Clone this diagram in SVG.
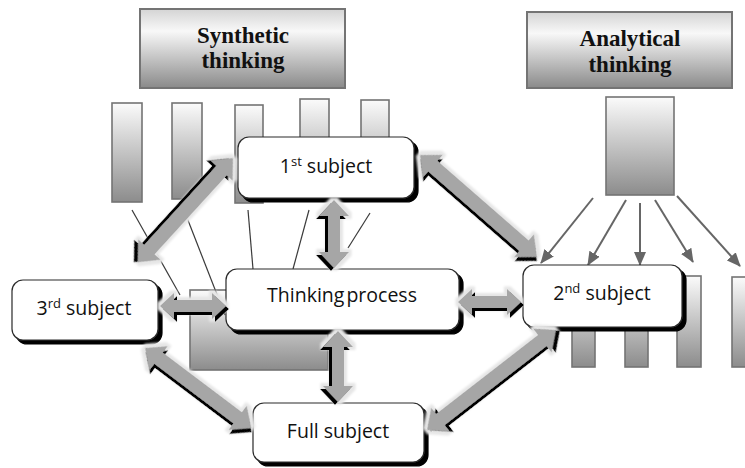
<svg xmlns="http://www.w3.org/2000/svg" width="745" height="468" viewBox="0 0 745 468">
<style>
.hdr{stroke:#747474;stroke-width:2;fill:url(#hdrGrad)}
.hdrt{font-family:"Liberation Serif","Times New Roman",serif;font-weight:bold;font-size:23px;fill:#111;text-anchor:middle}
.bar{stroke:#747474;stroke-width:1.6;fill:url(#barGrad)}
.node{fill:#fff;stroke:#2a2a2a;stroke-width:1.2;filter:url(#nodeShadow)}
.nt{font-family:"Open Sans","Noto Sans","DejaVu Sans",sans-serif;font-size:19.5px;fill:#111;text-anchor:middle}
.sup{font-size:13px}
.thin{stroke:#3a3a3a;stroke-width:1.2;fill:none}
.an{stroke:#666;stroke-width:2;fill:none;marker-end:url(#ah)}
.dbl{fill:#a6a6a6;filter:url(#arrowFx)}
</style>
<defs>
<linearGradient id="hdrGrad" x1="0" y1="0" x2="0" y2="1">
<stop offset="0" stop-color="#d4d4d4"/>
<stop offset="0.28" stop-color="#f8f8f8"/>
<stop offset="1" stop-color="#8a8a8a"/>
</linearGradient>
<linearGradient id="barGrad" x1="0" y1="0" x2="0" y2="1">
<stop offset="0" stop-color="#fbfbfb"/>
<stop offset="1" stop-color="#8c8c8c"/>
</linearGradient>
<filter id="nodeShadow" x="-10%" y="-20%" width="130%" height="150%">
<feGaussianBlur in="SourceAlpha" stdDeviation="0.5" result="b"/>
<feOffset in="b" dx="4" dy="4" result="o"/>
<feFlood flood-color="#000"/>
<feComposite in2="o" operator="in" result="s"/>
<feMerge><feMergeNode in="s"/><feMergeNode in="SourceGraphic"/></feMerge>
</filter>
<filter id="arrowFx" x="-40%" y="-40%" width="180%" height="180%">
<feMorphology in="SourceAlpha" operator="dilate" radius="3" result="d"/>
<feGaussianBlur in="d" stdDeviation="1" result="db"/>
<feFlood flood-color="#e6e6e6"/>
<feComposite in2="db" operator="in" result="halo"/>
<feOffset in="SourceAlpha" dx="2.5" dy="2.5" result="o"/>
<feFlood flood-color="#000"/>
<feComposite in2="o" operator="in" result="sh"/>
<feMerge><feMergeNode in="halo"/><feMergeNode in="sh"/><feMergeNode in="SourceGraphic"/></feMerge>
</filter>
<marker id="ah" viewBox="0 0 14 12" refX="13" refY="6" markerWidth="14" markerHeight="12" markerUnits="userSpaceOnUse" orient="auto">
<path d="M0,0 L14,6 L0,12 Z" fill="#666"/>
</marker>
</defs>
<rect width="745" height="468" fill="#fff"/>

<g id="synthetic-thinking">
<rect class="hdr" x="140" y="9" width="205" height="79"/>
<text class="hdrt" x="243" y="43">Synthetic</text>
<text class="hdrt" x="243" y="68">thinking</text>
</g>
<g id="analytical-thinking">
<rect class="hdr" x="527" y="12" width="205" height="76"/>
<text class="hdrt" x="630" y="46">Analytical</text>
<text class="hdrt" x="630" y="72">thinking</text>
</g>

<g id="synthetic-bars">
<rect class="bar" x="112" y="103" width="30" height="99"/>
<rect class="bar" x="172" y="103" width="30" height="96"/>
<rect class="bar" x="235" y="105" width="28" height="98"/>
<rect class="bar" x="300" y="99" width="29" height="100"/>
<rect class="bar" x="361" y="100" width="28" height="100"/>
</g>
<g id="analytical-bar">
<rect class="bar" x="606" y="97" width="68" height="98"/>
</g>
<g id="subject-bars">
<rect class="bar" x="572" y="276" width="23" height="91"/>
<rect class="bar" x="625" y="276" width="23" height="91"/>
<rect class="bar" x="677" y="276" width="24" height="91"/>
<rect class="bar" x="732" y="277" width="30" height="90"/>
</g>
<g id="process-bar">
<rect class="bar" x="190" y="290" width="138" height="80"/>
</g>

<g id="thin-lines">
<line class="thin" x1="132" y1="210" x2="180" y2="295"/>
<line class="thin" x1="184" y1="210" x2="225" y2="315"/>
<line class="thin" x1="248" y1="210" x2="253" y2="269"/>
<line class="thin" x1="309" y1="210" x2="293" y2="269"/>
<line class="thin" x1="370" y1="213" x2="348" y2="248"/>
</g>

<g id="analysis-arrows">
<line class="an" x1="593" y1="198" x2="541" y2="263"/>
<line class="an" x1="626" y1="200" x2="588" y2="265"/>
<line class="an" x1="640" y1="203" x2="640" y2="265"/>
<line class="an" x1="655" y1="200" x2="693" y2="262"/>
<line class="an" x1="677" y1="196" x2="740" y2="266"/>
</g>

<g id="node-1st">
<rect class="node" x="238" y="137" width="176" height="61" rx="11"/>
<text class="nt" x="326" y="173">1<tspan class="sup" dy="-7">st</tspan><tspan dy="7"> subject</tspan></text>
</g>
<g id="node-thinking">
<rect class="node" x="226" y="269" width="233" height="61" rx="11"/>
<text class="nt" x="342" y="302" word-spacing="-3">Thinking process</text>
</g>
<g id="node-3rd">
<rect class="node" x="12" y="280" width="146" height="60" rx="11"/>
<text class="nt" x="84" y="315">3<tspan class="sup" dy="-7">rd</tspan><tspan dy="7"> subject</tspan></text>
</g>
<g id="node-2nd">
<rect class="node" x="523" y="265" width="159" height="62" rx="11"/>
<text class="nt" x="602" y="300">2<tspan class="sup" dy="-7">nd</tspan><tspan dy="7"> subject</tspan></text>
</g>
<g id="node-full">
<rect class="node" x="253" y="403" width="171" height="59" rx="11"/>
<text class="nt" x="338" y="438">Full subject</text>
</g>

<g id="connectors">
<path class="dbl" transform="translate(233,158) rotate(132.4)" d="M0,0 L17,-15 L17,-7 L124,-7 L124,-15 L141,0 L124,15 L124,7 L17,7 L17,15 Z"/>
<path class="dbl" transform="translate(420,155) rotate(41.1)" d="M0,0 L17,-15 L17,-7 L138,-7 L138,-15 L155,0 L138,15 L138,7 L17,7 L17,15 Z"/>
<path class="dbl" transform="translate(145,348) rotate(37)" d="M0,0 L17,-15 L17,-7 L116,-7 L116,-15 L133,0 L116,15 L116,7 L17,7 L17,15 Z"/>
<path class="dbl" transform="translate(427,430) rotate(-37.8)" d="M0,0 L17,-15 L17,-7 L146,-7 L146,-15 L163,0 L146,15 L146,7 L17,7 L17,15 Z"/>
<path class="dbl" transform="translate(334,200) rotate(90)" d="M0,0 L16,-15 L16,-6 L52,-6 L52,-15 L68,0 L52,15 L52,6 L16,6 L16,15 Z"/>
<path class="dbl" transform="translate(338,331) rotate(90)" d="M0,0 L16,-15 L16,-6 L55,-6 L55,-15 L71,0 L55,15 L55,6 L16,6 L16,15 Z"/>
<path class="dbl" transform="translate(160,306)" d="M0,0 L14,-13 L14,-6 L52,-6 L52,-13 L66,0 L52,13 L52,6 L14,6 L14,13 Z"/>
<path class="dbl" transform="translate(458,302)" d="M0,0 L14,-13 L14,-6 L49,-6 L49,-13 L63,0 L49,13 L49,6 L14,6 L14,13 Z"/>
</g>
</svg>
